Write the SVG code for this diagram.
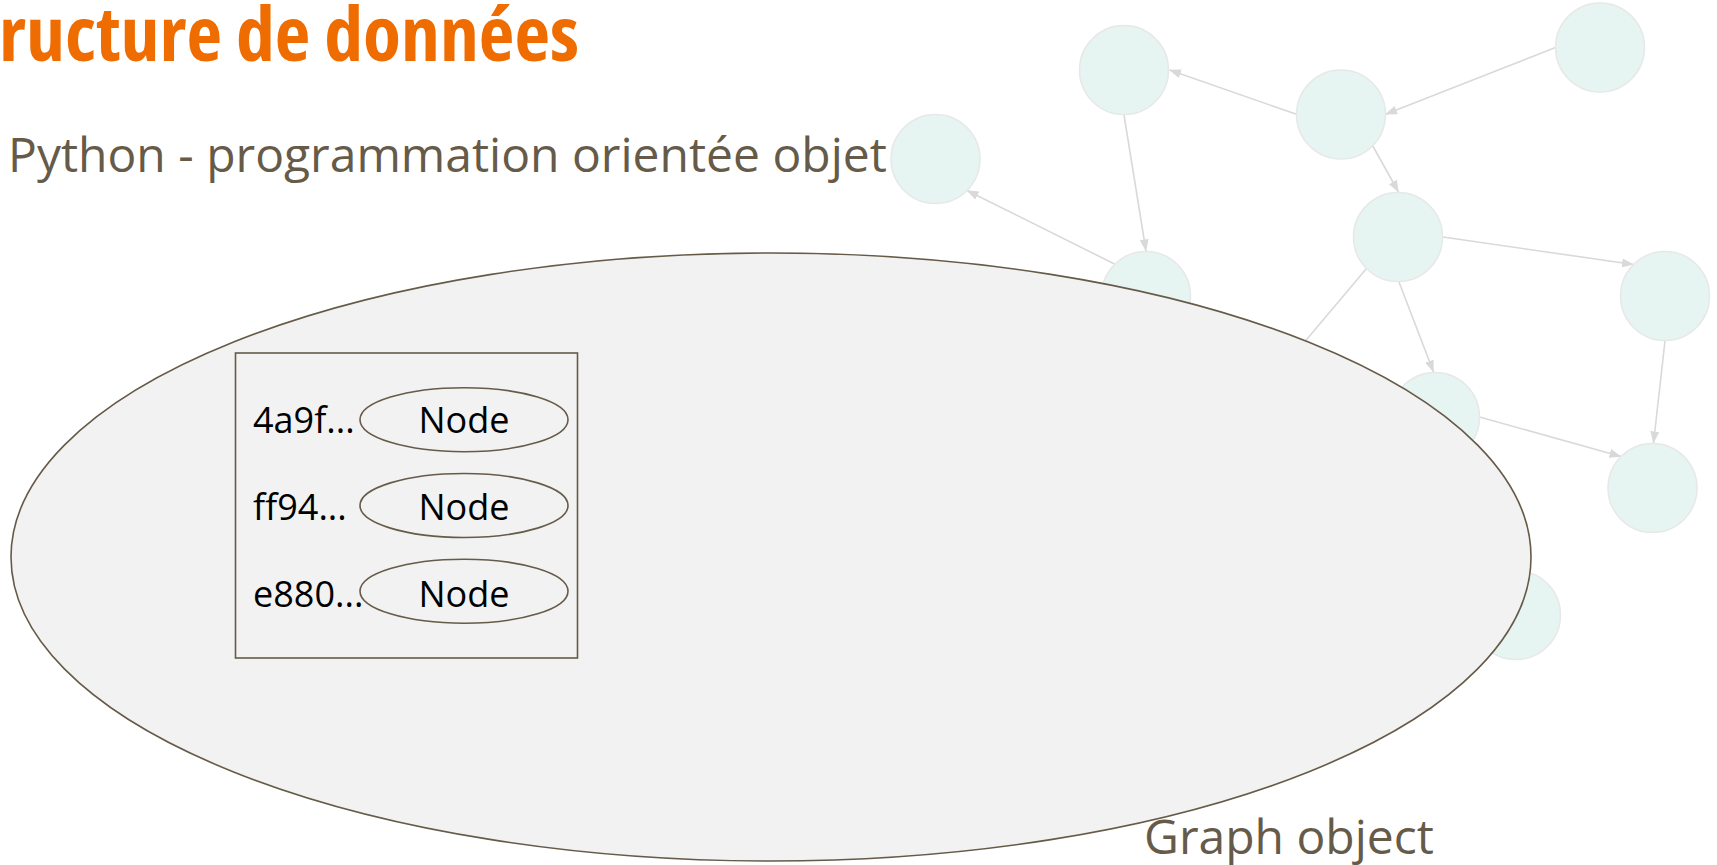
<svg xmlns="http://www.w3.org/2000/svg" width="1717" height="865" viewBox="0 0 1717 865">
  <defs>
    <style>
      .title { font-family: "Open Sans", "Liberation Sans", sans-serif; font-weight: 700; font-stretch: condensed; fill: #EF6C00; }
      .sub { font-family: "Open Sans", "Liberation Sans", sans-serif; fill: #665A48; }
      .lbl { font-family: "Open Sans", "Liberation Sans", sans-serif; font-size: 36px; fill: #000000; }
      .gnode { fill: #E7F5F2; stroke: #E6E9E8; stroke-width: 1.5; }
      .edge { fill: none; stroke: #D9D9D9; stroke-width: 1.6; }
      .container { fill: #F2F2F2; stroke: #665A48; stroke-width: 1.6; }
      .entry { fill: none; stroke: #665A48; stroke-width: 1.6; }
    </style>
    <marker id="arrow" markerUnits="userSpaceOnUse" markerWidth="12" markerHeight="9" viewBox="0 0 12 9" refX="11.5" refY="4.5" orient="auto">
      <path d="M0,0 L12,4.5 L0,9 Z" fill="#D9D9D9"/>
    </marker>
  </defs>

  <rect width="1717" height="865" fill="#FFFFFF"/>

  <!-- headings -->
  <text class="title" x="-1" y="61" font-size="76" textLength="580" lengthAdjust="spacingAndGlyphs">ructure de données</text>
  <text class="sub" x="8" y="172" font-size="48">Python - programmation orientée objet</text>

  <!-- background graph: connectors -->
  <g id="connectors">
    <line class="edge" x1="1296.5" y1="114.3" x2="1169.5" y2="70" marker-end="url(#arrow)"/>
    <line class="edge" x1="1555.5" y1="47.5" x2="1385.5" y2="114.3" marker-end="url(#arrow)"/>
    <line class="edge" x1="1124" y1="115" x2="1146" y2="251" marker-end="url(#arrow)"/>
    <line class="edge" x1="1115.5" y1="264.5" x2="967" y2="190.5" marker-end="url(#arrow)"/>
    <line class="edge" x1="1372.5" y1="145.5" x2="1398.5" y2="192" marker-end="url(#arrow)"/>
    <line class="edge" x1="1443" y1="237" x2="1633.5" y2="264.5" marker-end="url(#arrow)"/>
    <line class="edge" x1="1399" y1="282" x2="1433.5" y2="372" marker-end="url(#arrow)"/>
    <line class="edge" x1="1479.5" y1="417" x2="1621" y2="456.5" marker-end="url(#arrow)"/>
    <line class="edge" x1="1665" y1="341" x2="1653.5" y2="443" marker-end="url(#arrow)"/>
    <line class="edge" x1="1366.5" y1="268.5" x2="1270" y2="383"/>
  </g>

  <!-- background graph: nodes -->
  <g id="node-a"><circle class="gnode" cx="935.5" cy="159" r="44.5"/></g>
  <g id="node-b"><circle class="gnode" cx="1124" cy="70" r="44.5"/></g>
  <g id="node-c"><circle class="gnode" cx="1341" cy="114.5" r="44.5"/></g>
  <g id="node-d"><circle class="gnode" cx="1600" cy="47.5" r="44.5"/></g>
  <g id="node-e"><circle class="gnode" cx="1398" cy="237" r="44.5"/></g>
  <g id="node-f"><circle class="gnode" cx="1146" cy="296" r="44.5"/></g>
  <g id="node-g"><circle class="gnode" cx="1665" cy="296" r="44.5"/></g>
  <g id="node-h"><circle class="gnode" cx="1435" cy="417" r="44.5"/></g>
  <g id="node-i"><circle class="gnode" cx="1652.5" cy="488" r="44.5"/></g>
  <g id="node-j"><circle class="gnode" cx="1516" cy="615" r="44.5"/></g>

  <!-- Graph object container -->
  <g id="graph-object">
    <ellipse class="container" cx="771" cy="557" rx="760" ry="304"/>
    <text class="sub" x="1144" y="854" font-size="48">Graph object</text>
  </g>

  <!-- node dictionary -->
  <g id="node-dict">
    <rect class="container" x="235.5" y="353" width="342" height="305"/>
  </g>
  <g id="entry-1">
    <text class="lbl" x="253" y="433.3">4a9f...</text>
    <ellipse class="entry" cx="464" cy="419.7" rx="104" ry="32"/>
    <text class="lbl" x="464" y="433.3" text-anchor="middle">Node</text>
  </g>
  <g id="entry-2">
    <text class="lbl" x="253" y="520">ff94...</text>
    <ellipse class="entry" cx="464" cy="505.5" rx="104" ry="32"/>
    <text class="lbl" x="464" y="520" text-anchor="middle">Node</text>
  </g>
  <g id="entry-3">
    <text class="lbl" x="253" y="606.7">e880...</text>
    <ellipse class="entry" cx="464" cy="591.2" rx="104" ry="32"/>
    <text class="lbl" x="464" y="606.7" text-anchor="middle">Node</text>
  </g>
</svg>
